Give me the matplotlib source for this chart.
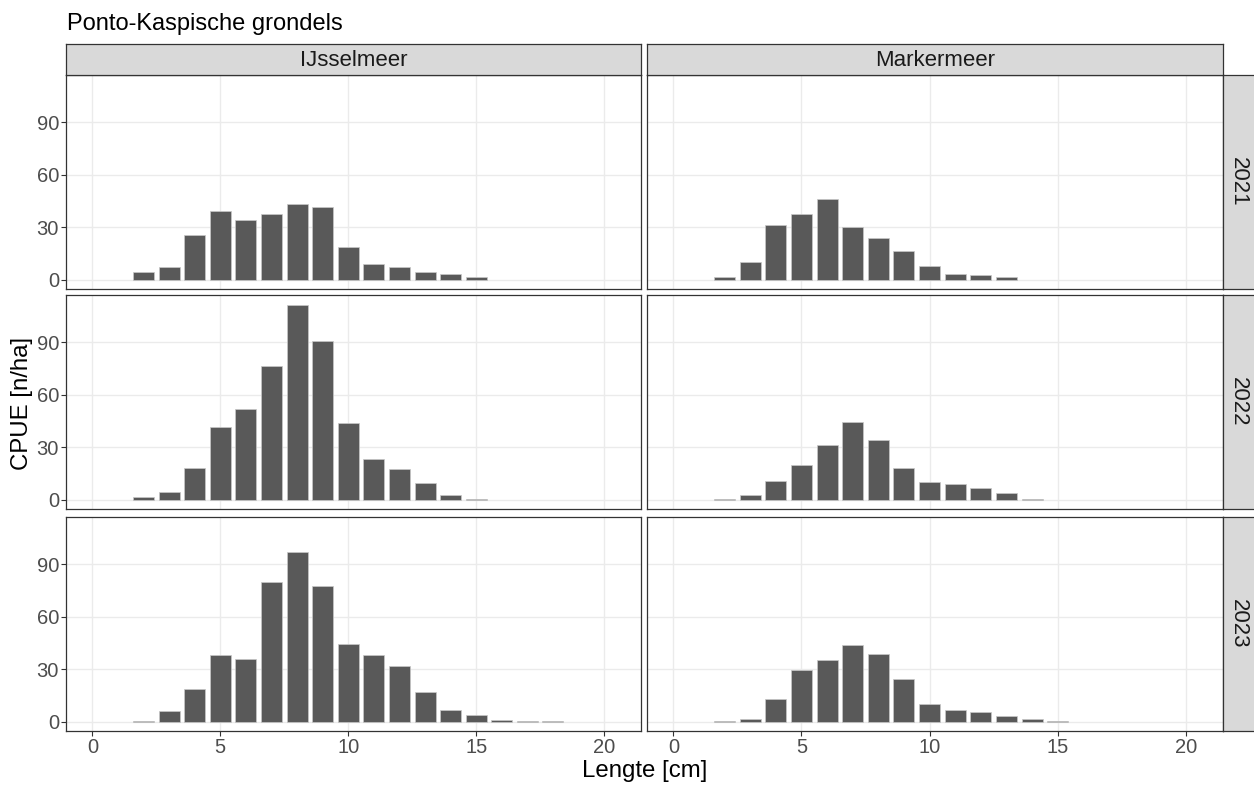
import matplotlib
matplotlib.use("Agg")
import matplotlib.pyplot as plt
import numpy as np

plt.rcParams['font.family'] = ['Liberation Sans', 'DejaVu Sans']

# Length classes (cm) and CPUE per lake and year
lakes = ["IJsselmeer", "Markermeer"]
years = ["2021", "2022", "2023"]

ijssel_2021_len = [2, 3, 4, 5, 6, 7, 8, 9, 10, 11, 12, 13, 14, 15]
ijssel_2021_cpue = [4.2, 7.1, 25.3, 39.3, 34.3, 37.7, 43.3, 41.4, 18.8, 8.8, 7.1, 4.2, 3.3, 1.5]

marker_2021_len = [2, 3, 4, 5, 6, 7, 8, 9, 10, 11, 12, 13]
marker_2021_cpue = [1.5, 10.1, 31.2, 37.7, 46.3, 29.9, 23.7, 16.1, 7.7, 3.3, 2.7, 1.5]

ijssel_2022_len = [2, 3, 4, 5, 6, 7, 8, 9, 10, 11, 12, 13, 14, 15]
ijssel_2022_cpue = [1.7, 4.2, 18.1, 41.7, 51.6, 76.5, 111.3, 90.8, 44.0, 23.2, 17.7, 9.3, 2.7, 0.6]

marker_2022_len = [2, 3, 4, 5, 6, 7, 8, 9, 10, 11, 12, 13, 14]
marker_2022_cpue = [0.6, 2.7, 10.7, 19.8, 31.2, 44.5, 34.1, 18.1, 10.1, 8.8, 6.7, 3.8, 0.6]

ijssel_2023_len = [2, 3, 4, 5, 6, 7, 8, 9, 10, 11, 12, 13, 14, 15, 16, 17, 18]
ijssel_2023_cpue = [0.4, 6.1, 18.7, 37.9, 35.5, 79.9, 96.9, 77.4, 44.4, 37.9, 31.7, 17.0, 6.5, 3.6, 1.0, 0.4, 0.4]

marker_2023_len = [2, 3, 4, 5, 6, 7, 8, 9, 10, 11, 12, 13, 14, 15]
marker_2023_cpue = [0.4, 1.5, 13.0, 29.6, 34.9, 43.5, 38.5, 24.4, 9.9, 6.5, 5.5, 3.1, 1.5, 0.4]

panels = {
    ("IJsselmeer", "2021"): (ijssel_2021_len, ijssel_2021_cpue),
    ("Markermeer", "2021"): (marker_2021_len, marker_2021_cpue),
    ("IJsselmeer", "2022"): (ijssel_2022_len, ijssel_2022_cpue),
    ("Markermeer", "2022"): (marker_2022_len, marker_2022_cpue),
    ("IJsselmeer", "2023"): (ijssel_2023_len, ijssel_2023_cpue),
    ("Markermeer", "2023"): (marker_2023_len, marker_2023_cpue),
}

x_ticks = [0, 5, 10, 15, 20]
y_ticks = [0, 30, 60, 90]

W, H = 1254, 785
fig = plt.figure(figsize=(W / 100, H / 100), dpi=100)
fig.patch.set_facecolor("white")

# pixel layout of the facet grid
col_x = [(66, 641), (647, 1222.7)]
row_y = [(75, 289.3), (295, 509.3), (517, 731.3)]
strip_top = 44
strip_right = 1254

BORDER = "#333333"
GRID = "#ebebeb"
STRIP_FILL = "#d9d9d9"
BAR = "#595959"
TICK_TXT = "#4d4d4d"

# shared y scale, padded 5% on each side of [0, max]
ymax = max(max(v[1]) for v in panels.values())
ylo = -0.05 * ymax
yhi = ymax * 1.05


def rect(x0, y0, x1, y1):
    return [x0 / W, 1 - y1 / H, (x1 - x0) / W, (y1 - y0) / H]


for r, year in enumerate(years):
    for c, lake in enumerate(lakes):
        x0, x1 = col_x[c]
        y0, y1 = row_y[r]
        ax = fig.add_axes(rect(x0, y0, x1, y1))
        lengths, cpue = panels[(lake, year)]
        ax.bar(lengths, cpue, width=0.82, color=BAR, edgecolor="#c8c8c8",
               linewidth=0.5, zorder=3)
        ax.set_xlim(-1.03, 21.44)
        ax.set_ylim(ylo, yhi)
        ax.set_xticks(x_ticks)
        ax.set_yticks(y_ticks)
        ax.grid(True, color=GRID, linewidth=1.0, zorder=0)
        ax.set_axisbelow(True)
        for sp in ax.spines.values():
            sp.set_color(BORDER)
            sp.set_linewidth(0.9)
        ax.tick_params(axis="both", direction="out", length=3.5, width=0.8,
                       color=BORDER, labelcolor=TICK_TXT, labelsize=14.5, pad=1.5)
        if c != 0:
            ax.tick_params(axis="y", length=0, labelleft=False)
        if r != len(years) - 1:
            ax.tick_params(axis="x", length=0, labelbottom=False)

        # year strip on the right
        if c == len(lakes) - 1:
            sax = fig.add_axes(rect(x1, y0, strip_right + 2, y1))
            sax.set_facecolor(STRIP_FILL)
            sax.set_xticks([])
            sax.set_yticks([])
            for sp in sax.spines.values():
                sp.set_color(BORDER)
                sp.set_linewidth(0.9)
            sax.text(0.47, 0.5, year, rotation=-90, ha="center", va="center",
                     fontsize=16, color="#1a1a1a", transform=sax.transAxes)

        # lake strip on top
        if r == 0:
            tax = fig.add_axes(rect(x0, strip_top, x1, y0))
            tax.set_facecolor(STRIP_FILL)
            tax.set_xticks([])
            tax.set_yticks([])
            for sp in tax.spines.values():
                sp.set_color(BORDER)
                sp.set_linewidth(0.9)
            tax.text(0.5, 0.47, lake, ha="center", va="center",
                     fontsize=16, color="#1a1a1a", transform=tax.transAxes)

fig.text(67 / W, 1 - 30 / H, "Ponto-Kaspische grondels", ha="left",
         va="baseline", fontsize=17, color="black")
fig.text((66 + 1222.7) / 2 / W, 1 - 777 / H, "Lengte [cm]", ha="center",
         va="baseline", fontsize=17.3, color="black")
fig.text(22 / W, 1 - 403 / H, "CPUE [n/ha]", ha="center", va="center",
         rotation=90, fontsize=17.3, color="black")

fig.savefig("out.png", dpi=100)
